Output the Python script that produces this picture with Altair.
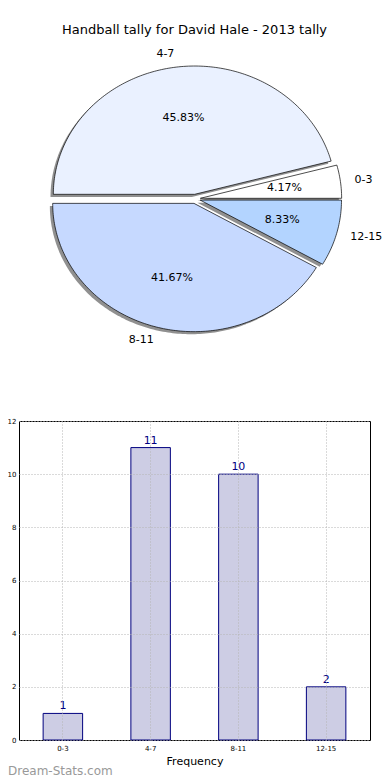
import math
import altair as alt
import numpy as np
import pandas as pd

# ---------------- data ----------------
categories = ["0-3", "4-7", "8-11", "12-15"]
counts = [1, 11, 10, 2]
slice_colors = ["#ffffff", "#eaf1ff", "#c6d9ff", "#b3d4ff"]
y_ticks = [0, 2, 4, 6, 8, 10, 12]
title_text = "Handball tally for David Hale - 2013 tally"
x_title = "Frequency"
y_title = "Total Tally"
watermark = "Dream-Stats.com"

EXPLODE = 0.036
LABEL_DIST = 1.1
PCT_DIST = 0.6
SHADOW = 0.02
FONT = "DejaVu Sans"

# ---------------- pie geometry (matplotlib-style: start at 3 o'clock, CCW) ----------------
total = float(sum(counts))
pts = []
lbls = []
cum = 0.0
for cat, c in zip(categories, counts):
    a0 = 2 * math.pi * cum / total
    a1 = 2 * math.pi * (cum + c) / total
    cum += c
    am = (a0 + a1) / 2
    ex, ey = EXPLODE * math.cos(am), EXPLODE * math.sin(am)
    n = max(3, int(math.ceil((a1 - a0) / (2 * math.pi) * 360)))
    ring = [(ex, ey)] + [(ex + math.cos(a), ey + math.sin(a)) for a in np.linspace(a0, a1, n)]
    for k, (px, py) in enumerate(ring):
        pts.append({"cat": cat, "k": k, "px": px, "py": py})
    lbls.append({
        "cat": cat,
        "pct": f"{100 * c / total:.2f}%",
        "lx": ex + LABEL_DIST * math.cos(am),
        "ly": ey + LABEL_DIST * math.sin(am),
        "tx": ex + PCT_DIST * math.cos(am),
        "ty": ey + PCT_DIST * math.sin(am),
        "side": "left" if math.cos(am) >= 0 else "right",
    })
pie_df = pd.DataFrame(pts)
lbl_df = pd.DataFrame(lbls)
bar_df = pd.DataFrame({"cat": categories, "count": counts})

xs = alt.Scale(domain=[-1, 1], range=[35.0, 317.6], nice=False, zero=False)
ys = alt.Scale(domain=[-1, 1], range=[-93.8, -350.4], nice=False, zero=False)

shadow = alt.Chart(pie_df).transform_calculate(
    sx=f"datum.px - {SHADOW}", sy=f"datum.py - {SHADOW}"
).mark_line(interpolate="linear-closed", fill="#555555", fillOpacity=0.65, strokeWidth=0).encode(
    x=alt.X("sx:Q", scale=xs, axis=None),
    y=alt.Y("sy:Q", scale=ys, axis=None),
    detail="cat:N",
    order="k:Q",
)

wedges = alt.Chart(pie_df).mark_line(
    interpolate="linear-closed", stroke="black", strokeWidth=0.7
).encode(
    x=alt.X("px:Q", scale=xs, axis=None),
    y=alt.Y("py:Q", scale=ys, axis=None),
    detail="cat:N",
    order="k:Q",
    fill=alt.Fill("cat:N", scale=alt.Scale(domain=categories, range=slice_colors), legend=None),
)

lbl_left = alt.Chart(lbl_df).transform_filter("datum.side == 'left'").mark_text(
    align="left", baseline="middle", fontSize=11, font=FONT, color="black"
).encode(x=alt.X("lx:Q", scale=xs, axis=None), y=alt.Y("ly:Q", scale=ys, axis=None), text="cat:N")

lbl_right = alt.Chart(lbl_df).transform_filter("datum.side == 'right'").mark_text(
    align="right", baseline="middle", fontSize=11, font=FONT, color="black"
).encode(x=alt.X("lx:Q", scale=xs, axis=None), y=alt.Y("ly:Q", scale=ys, axis=None), text="cat:N")

pct = alt.Chart(lbl_df).mark_text(
    align="center", baseline="middle", fontSize=11, font=FONT, color="black"
).encode(x=alt.X("tx:Q", scale=xs, axis=None), y=alt.Y("ty:Q", scale=ys, axis=None), text="pct:N")

pie = alt.layer(shadow, wedges, lbl_left, lbl_right, pct)

# ---------------- bar chart ----------------
xband = alt.Scale(domain=categories, paddingInner=0.55, paddingOuter=0.275)
grid_kw = dict(grid=True, gridDash=[1, 2], gridColor="#b4b4b4", gridWidth=1, domain=False,
               ticks=False, labelColor="black", labelFont=FONT, zindex=1)

x_enc = alt.X("cat:N", scale=xband, sort=categories,
              axis=alt.Axis(title=x_title, labelAngle=0, labelFontSize=7, bandPosition=0.5,
                            titleFontSize=11, titleFont=FONT, titleFontWeight="normal",
                            titleColor="black", titlePadding=4, labelPadding=4, **grid_kw))
y_enc = alt.Y("count:Q", scale=alt.Scale(domain=[0, 12], nice=False),
              axis=alt.Axis(values=y_ticks, title=y_title, labelFontSize=7, labelPadding=3,
                            titleFontSize=10, titleFont=FONT, titleFontWeight="normal",
                            titleColor="black", titleX=-16, titleY=159.5, titleAngle=-90,
                            titleAlign="center", titleBaseline="alphabetic", **grid_kw))

bars = alt.Chart(bar_df).mark_bar(fill="#cdcde4", stroke="#00007f", strokeWidth=1).encode(
    x=x_enc, y=y_enc
)
bar_text = alt.Chart(bar_df).mark_text(
    baseline="bottom", dy=-2, fontSize=11, font=FONT, color="#00007f"
).encode(x=x_enc, y=y_enc, text="count:Q")
barchart = alt.layer(bars, bar_text)

wm = alt.Chart(pd.DataFrame({"t": [watermark]})).mark_text(
    align="left", baseline="alphabetic", fontSize=12, font=FONT, color="#999999"
).encode(x=alt.value(-11), y=alt.value(354), text="t:N")

chart = alt.layer(pie, barchart, wm).resolve_scale(
    x="independent", y="independent", fill="independent"
).properties(
    width=351,
    height=319,
    autosize=alt.AutoSizeParams(type="none"),
    padding={"left": 11, "top": 413, "right": 12, "bottom": 40},
    title=alt.TitleParams(title_text, anchor="middle", fontSize=13, font=FONT,
                          fontWeight="normal", color="black", offset=11),
).configure(font=FONT).configure_view(stroke="black", strokeWidth=1)

chart.save("out.html", embed_options={"renderer": "svg", "actions": False})
